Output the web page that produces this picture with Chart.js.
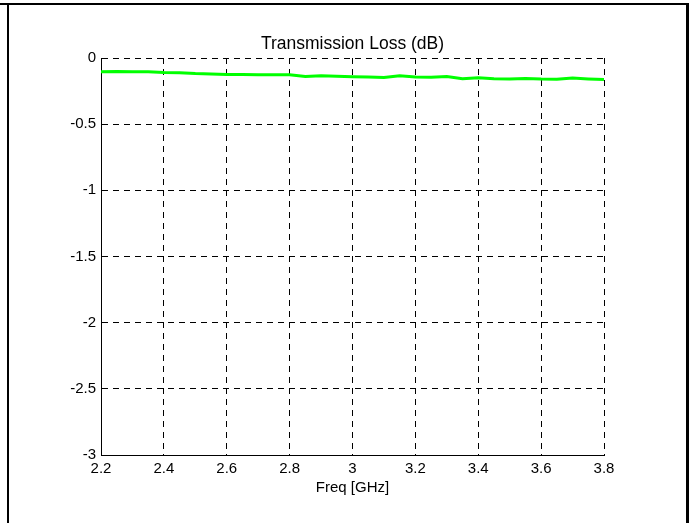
<!DOCTYPE html>
<html>
<head>
<meta charset="utf-8">
<script src="https://cdn.jsdelivr.net/npm/chart.js@4"></script>
<style>
  html, body { margin: 0; padding: 0; background: #fff; }
  #wrap { position: relative; width: 690px; height: 523px; overflow: hidden; }
  #lossChart { position: absolute; left: 0; top: 0; }
  .edge { position: absolute; background: #000; }
</style>
</head>
<body>
<div id="wrap">
  <canvas id="lossChart" width="690" height="523"></canvas>
  <div class="edge" style="left:0;top:3px;width:689px;height:2px"></div>
  <div class="edge" style="left:7px;top:3px;width:2px;height:520px"></div>
  <div class="edge" style="left:686px;top:3px;width:3px;height:520px"></div>
</div>
<script>
// ---- Data ----
const freqGHz = [
  2.20, 2.25, 2.30, 2.35, 2.40, 2.45, 2.50, 2.55, 2.60, 2.65, 2.70,
  2.75, 2.80, 2.85, 2.90, 2.95, 3.00, 3.05, 3.10, 3.15, 3.20, 3.25,
  3.30, 3.35, 3.40, 3.45, 3.50, 3.55, 3.60, 3.65, 3.70, 3.75, 3.80
];
const lossDb = [
  -0.104, -0.102, -0.104, -0.103, -0.110, -0.112, -0.118, -0.121, -0.125, -0.124, -0.127,
  -0.126, -0.127, -0.140, -0.134, -0.137, -0.141, -0.144, -0.147, -0.135, -0.143, -0.146,
  -0.140, -0.157, -0.150, -0.156, -0.158, -0.154, -0.159, -0.160, -0.152, -0.158, -0.163
];
const xTicks = [2.2, 2.4, 2.6, 2.8, 3.0, 3.2, 3.4, 3.6, 3.8];
const xTickLabels = ["2.2", "2.4", "2.6", "2.8", "3", "3.2", "3.4", "3.6", "3.8"];
const yTicks = [0, -0.5, -1, -1.5, -2, -2.5, -3];
const yTickLabels = ["0", "-0.5", "-1", "-1.5", "-2", "-2.5", "-3"];

const FONT = "'Liberation Sans', Arial, Helvetica, sans-serif";

const labelFor = (ticks, labels) => (value) => {
  const i = ticks.findIndex(t => Math.abs(t - value) < 1e-9);
  return i >= 0 ? labels[i] : "";
};

new Chart(document.getElementById("lossChart"), {
  type: "line",
  data: {
    datasets: [{
      data: freqGHz.map((f, i) => ({ x: f, y: lossDb[i] })),
      borderColor: "#00ff00",
      borderWidth: 3,
      pointRadius: 0,
      tension: 0,
      fill: false
    }]
  },
  options: {
    responsive: false,
    animation: false,
    devicePixelRatio: 1,
    layout: { padding: { left: 0, right: 86, top: 0, bottom: 0 } },
    plugins: {
      legend: { display: false },
      tooltip: { enabled: false },
      title: { display: false }
    },
    scales: {
      x: {
        type: "linear",
        min: 2.2,
        max: 3.8,
        afterBuildTicks: s => { s.ticks = xTicks.map(v => ({ value: v })); },
        afterFit: s => { s.height = 68; },
        ticks: {
          color: "#000",
          font: { family: FONT, size: 15 },
          padding: 5,
          maxRotation: 0,
          autoSkip: false,
          callback: labelFor(xTicks, xTickLabels)
        },
        grid: { color: "#000", lineWidth: 1, drawTicks: false },
        border: { display: true, color: "#000", width: 1, dash: [6, 5] },
        title: {
          display: true,
          text: "Freq [GHz]",
          color: "#000",
          font: { family: FONT, size: 15 },
          padding: { top: 0, bottom: 26 }
        }
      },
      // top axis only carries the plot title, centred over the plot area
      top: {
        type: "linear",
        position: "top",
        min: 2.2,
        max: 3.8,
        afterFit: s => { s.height = 58; },
        ticks: { display: false },
        grid: { display: false, drawTicks: false },
        border: { display: false },
        title: {
          display: true,
          text: "Transmission Loss (dB)",
          color: "#000",
          font: { family: FONT, size: 17.5 },
          padding: { top: 33.5, bottom: 0 }
        }
      },
      y: {
        min: -3,
        max: 0,
        afterBuildTicks: s => { s.ticks = yTicks.map(v => ({ value: v })); },
        afterFit: s => { s.width = 101; },
        ticks: {
          color: "#000",
          font: { family: FONT, size: 15 },
          padding: 5,
          autoSkip: false,
          callback: labelFor(yTicks, yTickLabels)
        },
        grid: { color: "#000", lineWidth: 1, drawTicks: false },
        border: { display: true, color: "#000", width: 1, dash: [6, 5] }
      }
    }
  }
});
</script>
</body>
</html>
